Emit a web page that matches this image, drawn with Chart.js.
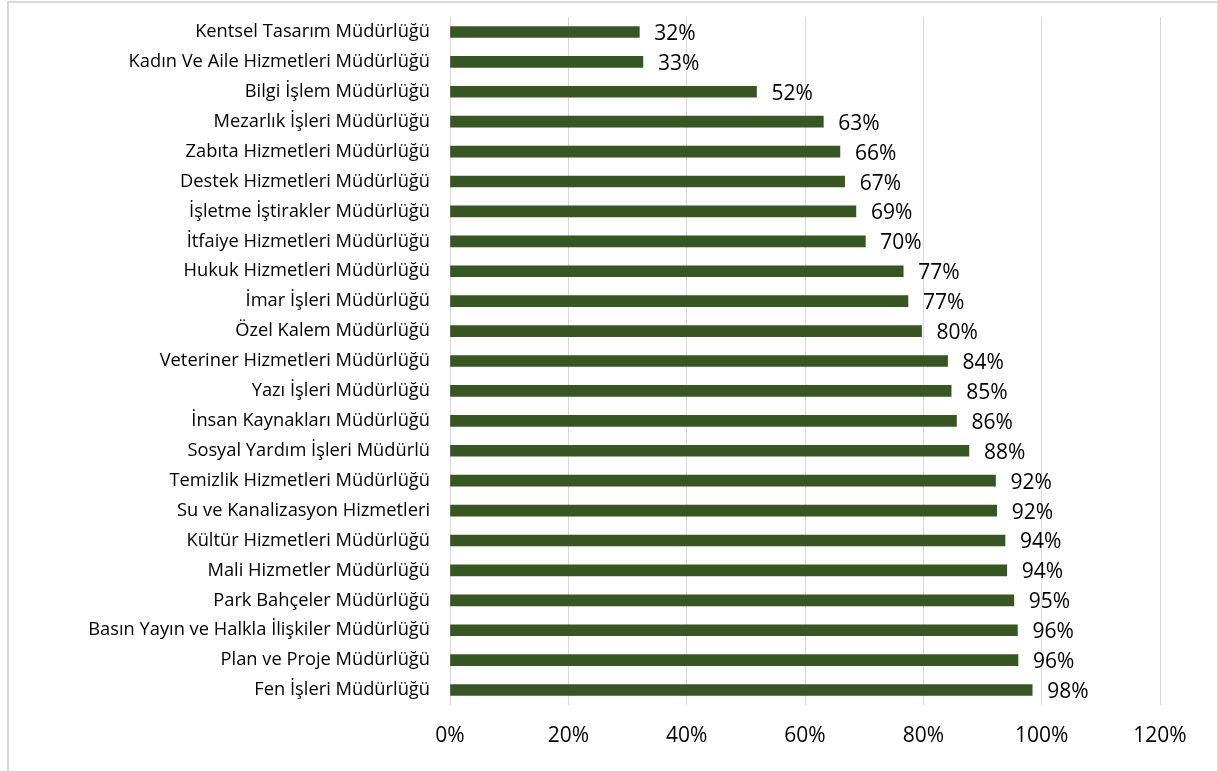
<!DOCTYPE html>
<html>
<head>
<meta charset="utf-8">
<script src="https://cdn.jsdelivr.net/npm/chart.js@4.4.0/dist/chart.umd.min.js"></script>
<style>
  html, body { margin: 0; padding: 0; background: #ffffff; }
  #wrap { position: relative; width: 1218px; height: 771px; overflow: hidden; }
  #frame { position: absolute; left: 7px; top: 1px; width: 1208px; height: 800px; border: 2px solid #d9d9d9; pointer-events: none; }
  canvas { position: absolute; left: 0; top: 0; }
</style>
</head>
<body>
<div id="wrap">
  <canvas id="main-chart" width="1218" height="771"></canvas>
  <div id="frame"></div>
</div>
<script>
const categories = [
  'Kentsel Tasarım Müdürlüğü',
  'Kadın Ve Aile Hizmetleri Müdürlüğü',
  'Bilgi İşlem Müdürlüğü',
  'Mezarlık İşleri Müdürlüğü',
  'Zabıta Hizmetleri Müdürlüğü',
  'Destek Hizmetleri Müdürlüğü',
  'İşletme İştirakler Müdürlüğü',
  'İtfaiye Hizmetleri Müdürlüğü',
  'Hukuk Hizmetleri Müdürlüğü',
  'İmar İşleri Müdürlüğü',
  'Özel Kalem Müdürlüğü',
  'Veteriner Hizmetleri Müdürlüğü',
  'Yazı İşleri Müdürlüğü',
  'İnsan Kaynakları Müdürlüğü',
  'Sosyal Yardım İşleri Müdürlü',
  'Temizlik Hizmetleri Müdürlüğü',
  'Su ve Kanalizasyon Hizmetleri',
  'Kültür Hizmetleri Müdürlüğü',
  'Mali Hizmetler Müdürlüğü',
  'Park Bahçeler Müdürlüğü',
  'Basın Yayın ve Halkla İlişkiler Müdürlüğü',
  'Plan ve Proje Müdürlüğü',
  'Fen İşleri Müdürlüğü',
];

const rates = [
  0.32, 0.326, 0.518, 0.631, 0.659, 0.667, 0.686, 0.702, 0.766, 0.774, 0.797, 0.841,
  0.847, 0.856, 0.877, 0.922, 0.924, 0.938, 0.941, 0.953, 0.959, 0.96, 0.984,
];

const xTicks = [0, 0.2, 0.4, 0.6, 0.8, 1.0, 1.2];

const themes = {
  bar: '#375623',
  text: '#000000',
  grid: '#d9d9d9',
};

const pct = (v) => Math.round(v * 100) + '%';

// value labels to the right of each bar
const barLabels = {
  id: 'barLabels',
  afterDatasetsDraw(chart) {
    const { ctx } = chart;
    const meta = chart.getDatasetMeta(0);
    ctx.save();
    ctx.font = '21px "Open Sans"';
    ctx.fillStyle = themes.text;
    ctx.textAlign = 'left';
    ctx.textBaseline = 'middle';
    meta.data.forEach((bar, i) => {
      ctx.fillText(pct(rates[i]), bar.x + 15, bar.y + 2);
    });
    ctx.restore();
  },
};

const ctx = document.getElementById('main-chart');

new Chart(ctx, {
  type: 'bar',
  data: {
    labels: categories,
    datasets: [
      {
        label: 'Oran',
        data: rates,
        backgroundColor: themes.bar,
        barThickness: 11,
      },
    ],
  },
  options: {
    indexAxis: 'y',
    responsive: false,
    animation: false,
    layout: { padding: { top: 17, right: 58, bottom: 0, left: 0 } },
    plugins: {
      legend: { display: false },
      tooltip: { enabled: false },
    },
    scales: {
      x: {
        min: 0,
        max: 1.2,
        afterBuildTicks: (scale) => {
          scale.ticks = xTicks.map((v) => ({ value: v }));
        },
        afterFit: (scale) => {
          scale.height = 66;
        },
        grid: { color: themes.grid, lineWidth: 1, drawTicks: false },
        border: { display: false },
        ticks: {
          color: themes.text,
          padding: 18,
          font: { family: 'Open Sans', size: 21 },
          callback: (v) => pct(v),
        },
      },
      y: {
        afterFit: (scale) => {
          scale.width = 450;
          scale.paddingTop = 0;
          scale.paddingBottom = 0;
        },
        grid: { display: false, drawTicks: false },
        border: { display: false },
        ticks: {
          color: themes.text,
          padding: 20,
          autoSkip: false,
          font: { family: 'Open Sans', size: 18.3 },
        },
      },
    },
  },
  plugins: [barLabels],
});
</script>
</body>
</html>
